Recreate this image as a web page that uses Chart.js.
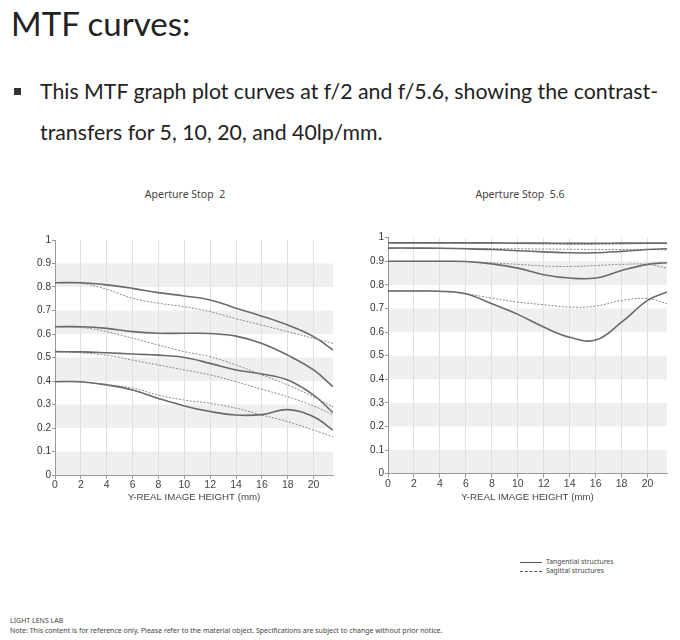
<!DOCTYPE html>
<html>
<head>
<meta charset="utf-8">
<script src="https://cdn.jsdelivr.net/npm/chart.js@4.4.1/dist/chart.umd.min.js"></script>
<style>
  body { margin: 0; width: 680px; height: 640px; background: #fff; position: relative; overflow: hidden; font-family: "Noto Sans", sans-serif; color: #222; }
  .abs { position: absolute; white-space: nowrap; }
  #heading { left: 11px; top: 7px; font-size: 33px; line-height: 1; font-family: Lato, sans-serif; color: #222; }
  .bullet { left: 14px; top: 88px; width: 7px; height: 7px; background: #333; }
  .line1 { left: 40px; top: 78px; font-size: 21.3px; font-family: Lato, sans-serif; }
  .line2 { left: 40px; top: 119px; font-size: 21.3px; font-family: Lato, sans-serif; }
  .ctitle { font-size: 10.5px; color: #444; transform: translateX(-50%); }
  .legend { left: 520px; font-size: 6.8px; color: #444; }
  .legend span { display: inline-block; width: 22px; margin-right: 4px; vertical-align: middle; }
  .footer { left: 10px; font-size: 7px; color: #444; }
  canvas { position: absolute; }
</style>
</head>
<body>
<div id="heading" class="abs">MTF curves:</div>
<div class="abs bullet"></div>
<div class="abs line1">This MTF graph plot curves at f/2 and f/5.6, showing the contrast-</div>
<div class="abs line2">transfers for 5, 10, 20, and 40lp/mm.</div>

<div class="abs ctitle" style="left:185px; top:187px;">Aperture Stop&nbsp;&nbsp;2</div>
<div class="abs ctitle" style="left:520px; top:187px;">Aperture Stop&nbsp;&nbsp;5.6</div>

<div style="position:absolute; left:30px; top:228px; width:310px; height:276px;"><canvas id="chartF2"></canvas></div>
<div style="position:absolute; left:350px; top:225px; width:325px; height:279px;"><canvas id="chartF56"></canvas></div>

<div class="abs legend" style="top:557px;"><span style="border-top:1.2px solid #555;"></span>Tangential structures</div>
<div class="abs legend" style="top:566px;"><span style="border-top:1.2px dashed #555;"></span>Sagittal structures</div>

<div class="abs footer" style="top:616px;">LIGHT LENS LAB</div>
<div class="abs footer" style="top:626px;">Note: This content is for reference only. Please refer to the material object. Specifications are subject to change without prior notice.</div>

<script>
const heightMm = [0, 2, 4, 6, 8, 10, 12, 14, 16, 18, 20, 21.5];
const xTicks = [0, 2, 4, 6, 8, 10, 12, 14, 16, 18, 20];
const bandStarts = [0, 0.2, 0.4, 0.6, 0.8];   // shaded 0.1 wide stripes

// Aperture stop 2 (f/2)
const f2Tan5  = [0.818, 0.818, 0.809, 0.794, 0.776, 0.762, 0.745, 0.710, 0.676, 0.638, 0.589, 0.532];
const f2Sag5  = [0.818, 0.816, 0.790, 0.752, 0.731, 0.716, 0.695, 0.665, 0.638, 0.610, 0.582, 0.560];
const f2Tan10 = [0.631, 0.631, 0.624, 0.610, 0.603, 0.603, 0.602, 0.591, 0.560, 0.510, 0.447, 0.376];
const f2Sag10 = [0.631, 0.628, 0.610, 0.582, 0.553, 0.525, 0.503, 0.468, 0.426, 0.383, 0.333, 0.290];
const f2Tan20 = [0.525, 0.524, 0.520, 0.515, 0.510, 0.500, 0.475, 0.447, 0.430, 0.404, 0.340, 0.265];
const f2Sag20 = [0.525, 0.520, 0.510, 0.489, 0.468, 0.447, 0.426, 0.397, 0.365, 0.333, 0.294, 0.255];
const f2Tan40 = [0.397, 0.397, 0.383, 0.362, 0.326, 0.294, 0.270, 0.255, 0.257, 0.278, 0.248, 0.191];
const f2Sag40 = [0.397, 0.395, 0.385, 0.370, 0.340, 0.319, 0.305, 0.284, 0.255, 0.227, 0.191, 0.163];

// Aperture stop 5.6 (f/5.6)
const f56Tan5  = [0.978, 0.978, 0.978, 0.978, 0.978, 0.977, 0.977, 0.976, 0.976, 0.977, 0.977, 0.977];
const f56Sag5  = [0.978, 0.978, 0.977, 0.977, 0.976, 0.975, 0.973, 0.972, 0.972, 0.973, 0.975, 0.976];
const f56Tan10 = [0.956, 0.956, 0.955, 0.953, 0.950, 0.945, 0.940, 0.936, 0.936, 0.942, 0.950, 0.953];
const f56Sag10 = [0.956, 0.956, 0.955, 0.955, 0.954, 0.953, 0.952, 0.951, 0.950, 0.950, 0.950, 0.948];
const f56Tan20 = [0.900, 0.900, 0.900, 0.899, 0.889, 0.871, 0.843, 0.829, 0.829, 0.861, 0.887, 0.894];
const f56Sag20 = [0.900, 0.900, 0.900, 0.899, 0.893, 0.887, 0.880, 0.878, 0.882, 0.887, 0.887, 0.871];
const f56Tan40 = [0.774, 0.774, 0.773, 0.762, 0.720, 0.675, 0.621, 0.578, 0.566, 0.642, 0.734, 0.770];
const f56Sag40 = [0.774, 0.774, 0.773, 0.762, 0.744, 0.727, 0.716, 0.706, 0.710, 0.734, 0.742, 0.720];

function toPoints(values) {
  return values.map((v, i) => ({ x: heightMm[i], y: v }));
}

function tanSet(label, values) {
  return { label: label, data: toPoints(values), borderColor: "#6a6a6a", borderWidth: 1.6,
           pointRadius: 0, tension: 0.4, fill: false };
}
function sagSet(label, values) {
  return { label: label, data: toPoints(values), borderColor: "#8a8a8a", borderWidth: 1,
           borderDash: [2, 1.5], pointRadius: 0, tension: 0.4, fill: false };
}

// Draws the grey stripes behind grid and curves
const bandPlugin = {
  id: "bands",
  beforeDraw(chart) {
    const { ctx, chartArea, scales } = chart;
    ctx.save();
    ctx.fillStyle = "#efefef";
    bandStarts.forEach(b => {
      const yTop = scales.y.getPixelForValue(b + 0.1);
      const yBot = scales.y.getPixelForValue(b);
      ctx.fillRect(chartArea.left, yTop, chartArea.right - chartArea.left, yBot - yTop);
    });
    ctx.restore();
  }
};

function makeChart(canvasId, datasets, yAxisWidth, pad) {
  return new Chart(document.getElementById(canvasId), {
    type: "line",
    data: { datasets: datasets },
    plugins: [bandPlugin],
    options: {
      responsive: true,
      maintainAspectRatio: false,
      animation: false,
      layout: { padding: pad },
      plugins: { legend: { display: false }, tooltip: { enabled: false } },
      scales: {
        x: {
          type: "linear", min: 0, max: 21.5,
          afterBuildTicks: axis => { axis.ticks = xTicks.map(v => ({ value: v })); },
          afterFit: axis => { axis.height = pad.xAxis; },
          grid: { color: "#e0e0e0", tickColor: "#999", tickLength: 4 },
          border: { color: "#999" },
          ticks: { color: "#444", padding: 0, font: { family: "Liberation Sans", size: 10.5 } },
          title: { display: true, text: "Y-REAL IMAGE HEIGHT (mm)", color: "#444",
                   padding: { top: 0, bottom: 1 }, font: { family: "Liberation Sans", size: 9.7 } }
        },
        y: {
          min: 0, max: 1,
          afterFit: axis => { axis.width = yAxisWidth; },
          ticks: { stepSize: 0.1, color: "#333", padding: 1,
                   font: { family: "Liberation Sans", size: 10 },
                   callback: v => String(Number(v.toFixed(1))) },
          grid: { drawOnChartArea: false, tickColor: "#999", tickLength: 3 },
          border: { color: "#999" }
        }
      }
    }
  });
}

makeChart("chartF2", [
  tanSet("T 5 lp/mm", f2Tan5), sagSet("S 5 lp/mm", f2Sag5),
  tanSet("T 10 lp/mm", f2Tan10), sagSet("S 10 lp/mm", f2Sag10),
  tanSet("T 20 lp/mm", f2Tan20), sagSet("S 20 lp/mm", f2Sag20),
  tanSet("T 40 lp/mm", f2Tan40), sagSet("S 40 lp/mm", f2Sag40)
], 25, { top: 12, right: 7, bottom: 0, left: 0, xAxis: 29 });

makeChart("chartF56", [
  tanSet("T 5 lp/mm", f56Tan5), sagSet("S 5 lp/mm", f56Sag5),
  tanSet("T 10 lp/mm", f56Tan10), sagSet("S 10 lp/mm", f56Sag10),
  tanSet("T 20 lp/mm", f56Tan20), sagSet("S 20 lp/mm", f56Sag20),
  tanSet("T 40 lp/mm", f56Tan40), sagSet("S 40 lp/mm", f56Sag40)
], 38, { top: 12.7, right: 8, bottom: 0, left: 0, xAxis: 30.4 });
</script>
</body>
</html>
